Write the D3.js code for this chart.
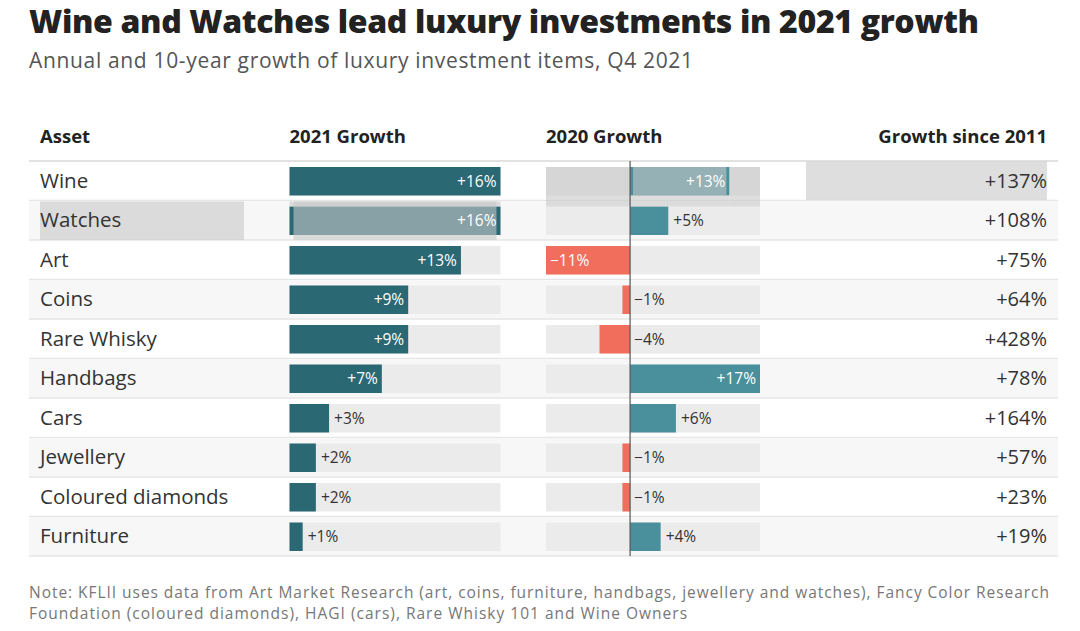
<!DOCTYPE html>
<html>
<head>
<meta charset="utf-8">
<script src="https://cdn.jsdelivr.net/npm/d3@7"></script>
<style>
  html, body { margin: 0; padding: 0; background: #fff; }
  svg { display: block; font-family: "Open Sans", "Noto Sans", sans-serif; }
</style>
</head>
<body>
<svg id="chart" width="1080" height="631"></svg>
<script>
const assets = ["Wine", "Watches", "Art", "Coins", "Rare Whisky", "Handbags", "Cars", "Jewellery", "Coloured diamonds", "Furniture"];
const growth2021 = [16, 16, 13, 9, 9, 7, 3, 2, 2, 1];
const growth2020 = [13, 5, -11, -1, -4, 17, 6, -1, -1, 4];
const growthSince2011 = [137, 108, 75, 64, 428, 78, 164, 57, 23, 19];
const headers = ["Asset", "2021 Growth", "2020 Growth", "Growth since 2011"];
const title = "Wine and Watches lead luxury investments in 2021 growth";
const subtitle = "Annual and 10-year growth of luxury investment items, Q4 2021";
const noteLines = [
  "Note: KFLII uses data from Art Market Research (art, coins, furniture, handbags, jewellery and watches), Fancy Color Research",
  "Foundation (coloured diamonds), HAGI (cars), Rare Whisky 101 and Wine Owners"
];

const rows = assets.map((a, i) => ({ asset: a, g21: growth2021[i], g20: growth2020[i], g11: growthSince2011[i], i }));
const svg = d3.select("#chart");
const fmt = v => (v < 0 ? "\u2212" : "+") + Math.abs(v) + "%";

const C = { dark: "#2a6874", light: "#4a909c", neg: "#f26e5c", track: "#ebebeb" };

// stretch text to a target width with letter spacing
function fit(sel, target) {
  const node = sel.node();
  const w = node.getComputedTextLength();
  const n = sel.text().length;
  if (n > 1) sel.attr("letter-spacing", ((target - w) / (n - 1)).toFixed(3));
  return sel;
}

// Title / subtitle
fit(svg.append("text").attr("x", 29).attr("y", 33).attr("font-size", 32).attr("font-weight", 800)
  .attr("fill", "#222").text(title), 950);
fit(svg.append("text").attr("x", 29).attr("y", 68).attr("font-size", 21).attr("fill", "#555").text(subtitle), 664);

// Scales
const y = d3.scaleBand().domain(assets).range([161, 556]).paddingInner(0);
const x21 = d3.scaleLinear().domain([0, 16]).range([289.5, 500.5]);
const x20 = d3.scaleLinear().domain([-11, 17]).range([546, 760]);
const colAsset = 40, colSinceRight = 1047, tableL = 29, tableR = 1058;

// Headers
const hdr = svg.append("g").attr("font-size", 18.5).attr("font-weight", 700).attr("fill", "#222");
hdr.append("text").attr("x", colAsset).attr("y", 143).text(headers[0]);
hdr.append("text").attr("x", x21.range()[0]).attr("y", 143).text(headers[1]);
hdr.append("text").attr("x", x20.range()[0]).attr("y", 143).text(headers[2]);
hdr.append("text").attr("x", colSinceRight).attr("y", 143).attr("text-anchor", "end").text(headers[3]);
svg.append("line").attr("x1", tableL).attr("x2", tableR).attr("y1", 161).attr("y2", 161)
  .attr("stroke", "#e2e2e2").attr("stroke-width", 2);

// Row backgrounds
const rowG = svg.append("g").selectAll("g").data(rows).join("g");
rowG.append("rect").attr("x", tableL).attr("width", tableR - tableL)
  .attr("y", d => y(d.asset) + 1).attr("height", y.bandwidth() - 1)
  .attr("fill", d => d.i % 2 ? "#f7f7f7" : "#ffffff");
rowG.append("line").attr("x1", tableL).attr("x2", tableR)
  .attr("y1", d => y(d.asset) + y.bandwidth()).attr("y2", d => y(d.asset) + y.bandwidth())
  .attr("stroke", "#e6e6e6").attr("stroke-width", 1.5);

const barY = d => y(d.asset) + 6;
const barH = y.bandwidth() - 11;

// Tracks and bars
rowG.append("rect").attr("x", x21(0)).attr("width", x21.range()[1] - x21(0))
  .attr("y", barY).attr("height", barH).attr("fill", C.track);
rowG.append("rect").attr("x", x21(0)).attr("width", d => x21(d.g21) - x21(0))
  .attr("y", barY).attr("height", barH).attr("fill", C.dark);
rowG.append("rect").attr("x", x20.range()[0]).attr("width", x20.range()[1] - x20.range()[0])
  .attr("y", barY).attr("height", barH).attr("fill", C.track);
rowG.append("rect").attr("x", d => x20(Math.min(0, d.g20))).attr("width", d => Math.abs(x20(d.g20) - x20(0)))
  .attr("y", barY).attr("height", barH).attr("fill", d => d.g20 < 0 ? C.neg : C.light);

// Hover highlight overlays (as in the captured state)
const hl = svg.append("g").attr("fill", "#c8c8c8").attr("fill-opacity", 0.6).attr("pointer-events", "none");
const wRow = y("Watches"), wineRow = y("Wine");
hl.append("rect").attr("x", colAsset).attr("width", 204).attr("y", wRow + 1).attr("height", y.bandwidth() - 1);
hl.append("rect").attr("x", x21(0) + 4).attr("width", x21(16) - x21(0) - 8).attr("y", wRow + 1).attr("height", y.bandwidth() - 1);
hl.append("rect").attr("x", x21(0)).attr("width", x21(16) - x21(0)).attr("y", wRow + 1).attr("height", 5);
hl.append("rect").attr("x", x20.range()[0]).attr("width", x20(0) - x20.range()[0]).attr("y", wineRow + 6).attr("height", y.bandwidth());
hl.append("rect").attr("x", x20(0) + 3).attr("width", x20(13) - x20(0) - 6).attr("y", wineRow + 6).attr("height", y.bandwidth() - 11);
hl.append("rect").attr("x", x20(13)).attr("width", x20.range()[1] - x20(13)).attr("y", wineRow + 6).attr("height", y.bandwidth());
hl.append("rect").attr("x", x20(0)).attr("width", x20(13) - x20(0)).attr("y", wineRow + y.bandwidth() - 5).attr("height", 11);
hl.append("rect").attr("x", 806).attr("width", colSinceRight - 806).attr("y", wineRow + 0.5).attr("height", y.bandwidth() - 1);

// Text layer (above overlays)
const txtG = svg.append("g").selectAll("g").data(rows).join("g");

// Asset names
txtG.append("text").attr("x", colAsset).attr("y", d => y(d.asset) + y.bandwidth() / 2 + 7)
  .attr("font-size", 20.5).attr("fill", "#333").text(d => d.asset);

// 2021 labels
txtG.append("text")
  .attr("x", d => d.g21 >= 7 ? x21(d.g21) - 4 : x21(d.g21) + 5)
  .attr("text-anchor", d => d.g21 >= 7 ? "end" : "start")
  .attr("y", d => barY(d) + barH / 2 + 5.5)
  .attr("font-size", 15.5).attr("fill", d => d.g21 >= 7 ? "#fff" : "#333")
  .text(d => fmt(d.g21));

// 2020 labels
txtG.append("text")
  .attr("x", d => {
    if (d.g20 >= 13) return x20(d.g20) - 4;
    if (d.g20 > 0) return x20(d.g20) + 5;
    if (d.g20 <= -11) return x20(d.g20) + 4;
    return x20(0) + 4;
  })
  .attr("text-anchor", d => d.g20 >= 13 ? "end" : "start")
  .attr("y", d => barY(d) + barH / 2 + 5.5)
  .attr("font-size", 15.5).attr("fill", d => (d.g20 >= 13 || d.g20 <= -11) ? "#fff" : "#333")
  .text(d => fmt(d.g20));

// Growth since 2011
txtG.append("text").attr("x", colSinceRight).attr("text-anchor", "end")
  .attr("y", d => y(d.asset) + y.bandwidth() / 2 + 7)
  .attr("font-size", 20).attr("fill", "#333").text(d => fmt(d.g11));

// Zero line for 2020
svg.append("line").attr("x1", x20(0)).attr("x2", x20(0)).attr("y1", 161).attr("y2", 556)
  .attr("stroke", "#555").attr("stroke-width", 1.2);

// Note
svg.append("g").selectAll("text").data(noteLines).join("text")
  .attr("x", 29).attr("y", (d, i) => 598 + i * 21)
  .attr("font-size", 15.5).attr("fill", "#777").text(d => d)
  .each(function (d, i) { fit(d3.select(this), i === 0 ? 1020 : 658); });
</script>
</body>
</html>
